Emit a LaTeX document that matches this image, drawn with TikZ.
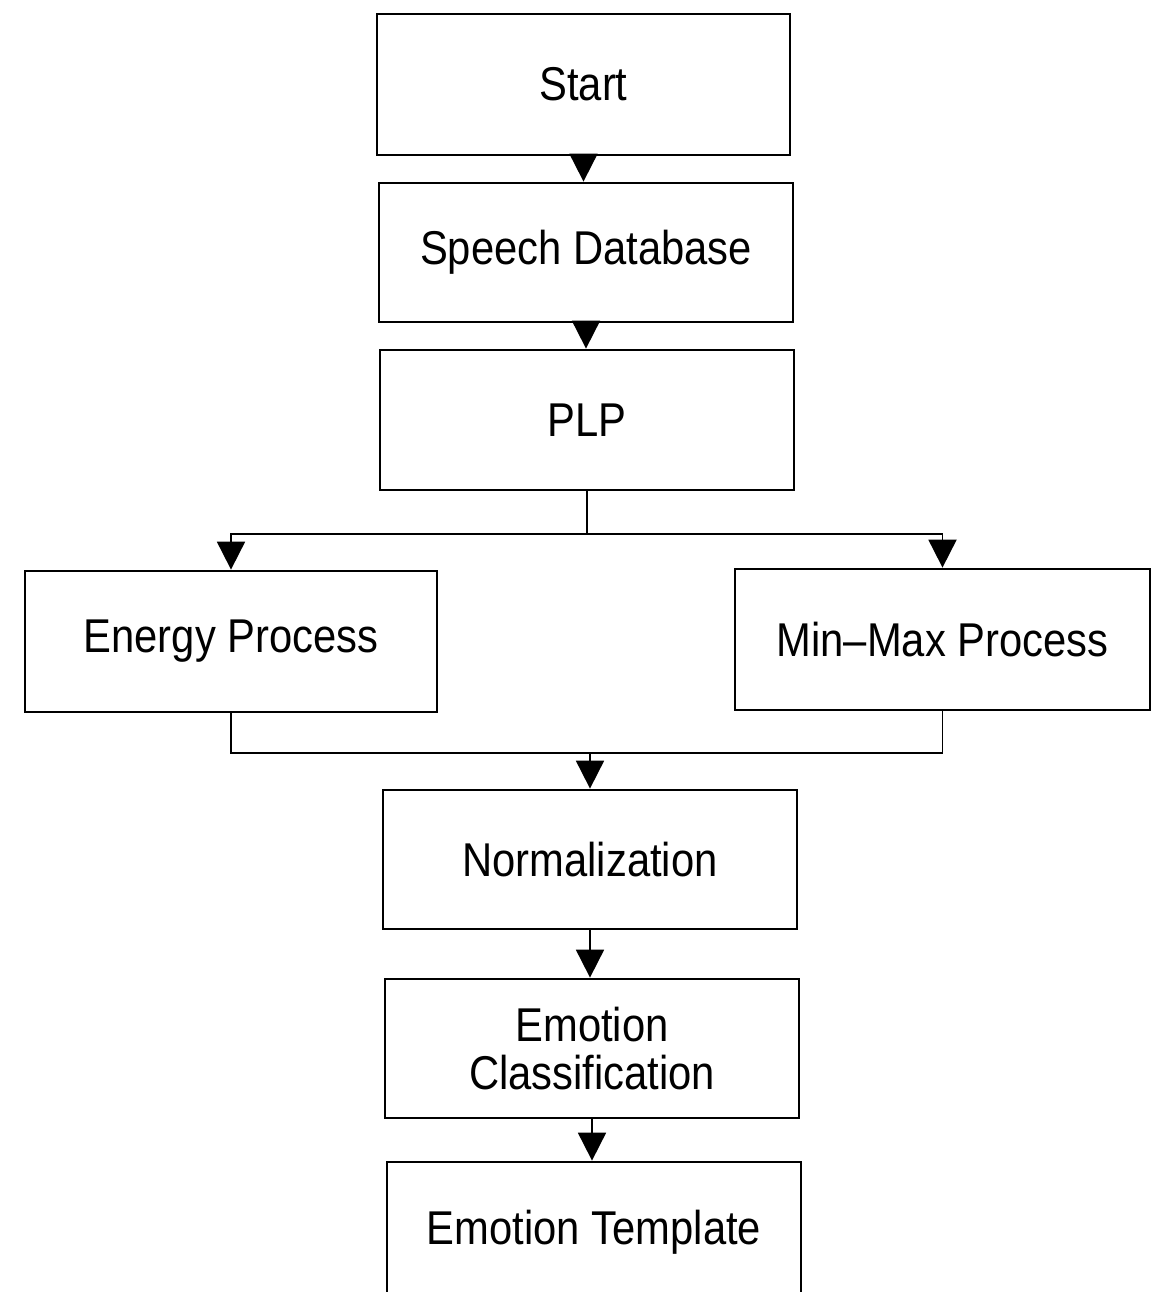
\documentclass[tikz,border=0pt]{standalone}
\usepackage{fontspec}
\setmainfont[FakeStretch=0.88]{Liberation Sans}
\usetikzlibrary{arrows.meta}
\begin{document}
\begin{tikzpicture}[x=0.02cm,y=-0.02cm,
  box/.style={draw, line width=1.6pt, inner sep=0pt, align=center,
    font=\fontsize{27}{27.5}\selectfont},
  conn/.style={line width=1.1pt},
  arr/.style={conn, -{Triangle[length=0.56cm,width=0.56cm]}}]
\useasboundingbox (0,0) rectangle (1151,1292);
\clip (0,0) rectangle (1151,1292);
\fill[white] (0,0) rectangle (1151,1292);
\node[box, minimum width=8.26cm, minimum height=2.82cm] (start) at (583.5,84.5) {Start};
\node[box, minimum width=8.28cm, minimum height=2.78cm] (speech) at (586,252.5) {Speech Database};
\node[box, minimum width=8.28cm, minimum height=2.80cm] (plp) at (587,420) {PLP};
\node[box, minimum width=8.24cm, minimum height=2.82cm] (energy) at (231,641.5) {Energy Process};
\node[box, minimum width=8.30cm, minimum height=2.82cm] (minmax) at (942.5,639.5) {Min--Max Process};
\node[box, minimum width=8.28cm, minimum height=2.78cm] (norm) at (590,859.5) {Normalization};
\node[box, minimum width=8.28cm, minimum height=2.78cm] (emo) at (592,1048.5) {Emotion\\Classification};
\node[box, minimum width=8.28cm, minimum height=2.80cm] (tmpl) at (594,1232) {Emotion Template};
\draw[arr] (start.south) -- (start.south |- speech.north);
\draw[arr] (speech.south) -- (speech.south |- plp.north);
\coordinate (split) at (587,534);
\draw[conn] (plp.south) -- (split);
\draw[arr] (split) -| (energy.north);
\draw[arr] (split) -| (minmax.north);
\coordinate (merge) at (590,753);
\draw[conn] (energy.south) |- (merge);
\draw[conn] (minmax.south) |- (merge);
\draw[arr] (merge) -- (merge |- norm.north);
\draw[arr] (norm.south) -- (norm.south |- emo.north);
\draw[arr] (emo.south) -- (emo.south |- tmpl.north);
\end{tikzpicture}
\end{document}
